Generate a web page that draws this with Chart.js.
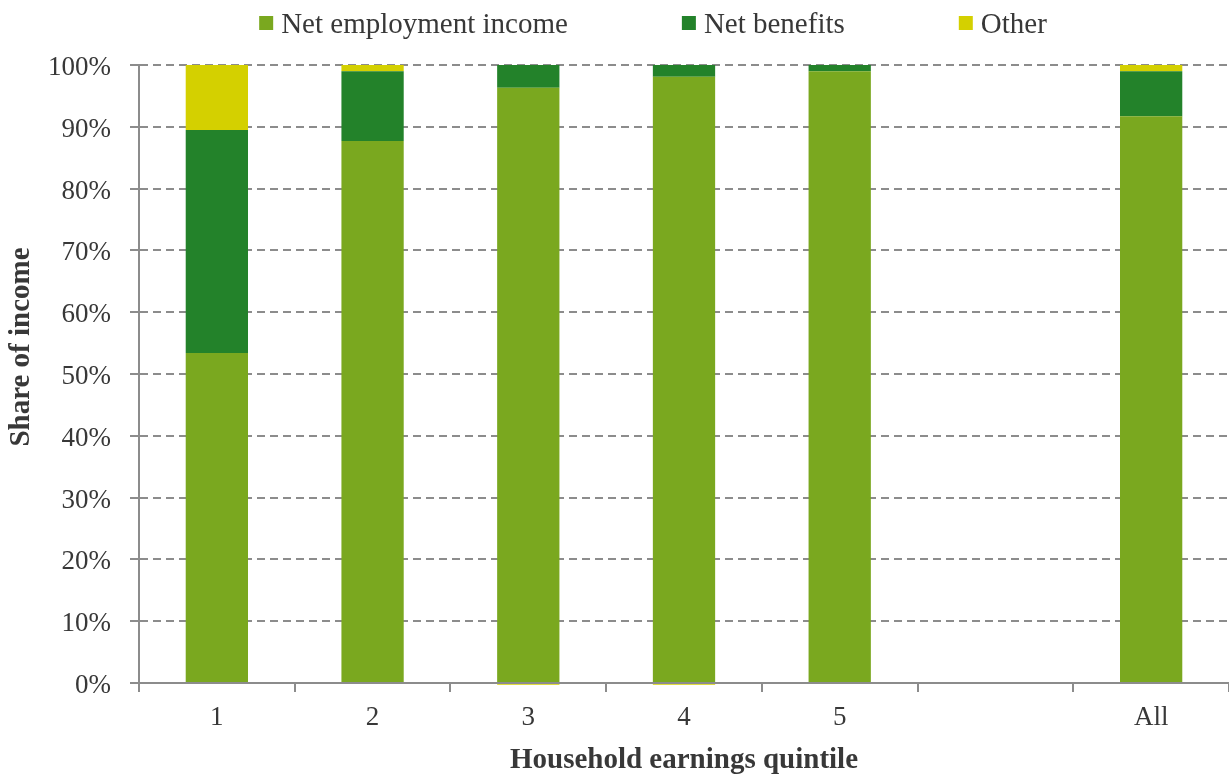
<!DOCTYPE html>
<html>
<head>
<meta charset="utf-8">
<script src="https://cdn.jsdelivr.net/npm/chart.js@4"></script>
<style>
  html, body { margin: 0; padding: 0; background: #fff; }
  #wrap { width: 1229px; height: 778px; }
</style>
</head>
<body>
<div id="wrap"><canvas id="incomeChart"></canvas></div>
<script>
const quintiles  = ["1", "2", "3", "4", "5", "", "All"];
const employment = [53.4, 87.7, 96.3, 98.1, 99.0, null, 91.7];
const benefits   = [36.1, 11.3, 3.7, 1.9, 1.0, null, 7.3];
const other      = [10.5, 1.0, -0.3, -0.3, 0, null, 1.0];

const FONT = "'Liberation Serif', 'Times New Roman', serif";
const TEXT = "#383838";
const AXIS = "#8c8c8c";

// legend + y title drawn by hand so they sit where the original has them
const extras = {
  id: "extras",
  afterDraw(chart) {
    const ctx = chart.ctx;
    const sets = chart.data.datasets;
    ctx.save();
    ctx.font = "29px " + FONT;
    ctx.textBaseline = "middle";
    const box = 14, gap = 8, spacing = 114;
    const widths = sets.map(d => box + gap + ctx.measureText(d.label).width);
    const total = widths.reduce((a, b) => a + b, 0) + spacing * (sets.length - 1);
    let x = 653 - total / 2;
    const y = 23;
    sets.forEach((d, i) => {
      ctx.fillStyle = d.backgroundColor;
      ctx.fillRect(x, y - box / 2, box, box);
      ctx.fillStyle = TEXT;
      ctx.fillText(d.label, x + box + gap, y + 2);
      x += widths[i] + spacing;
    });

    // y axis title
    ctx.translate(22, 347);
    ctx.rotate(-Math.PI / 2);
    ctx.font = "bold 29px " + FONT;
    ctx.textAlign = "center";
    ctx.fillStyle = TEXT;
    ctx.fillText("Share of income", 0, 0);
    ctx.restore();
  }
};

const ctx = document.getElementById("incomeChart");

new Chart(ctx, {
  type: "bar",
  data: {
    labels: quintiles,
    datasets: [
      { label: "Net employment income", data: employment, backgroundColor: "#7aa81f", clip: false },
      { label: "Net benefits", data: benefits, backgroundColor: "#23822a", clip: false },
      { label: "Other", data: other, backgroundColor: "#d4d000", clip: false }
    ]
  },
  options: {
    responsive: true,
    maintainAspectRatio: false,
    animation: false,
    layout: { padding: { top: 65, right: 0, left: 0, bottom: 0 } },
    datasets: {
      bar: { barPercentage: 0.4, categoryPercentage: 1.0 }
    },
    plugins: {
      legend: { display: false },
      tooltip: { enabled: false }
    },
    scales: {
      x: {
        stacked: true,
        afterFit: s => { s.height = 95; },
        grid: {
          offset: true,
          drawOnChartArea: false,
          drawTicks: true,
          tickLength: 9,
          color: AXIS,
          lineWidth: 2
        },
        border: { color: AXIS, width: 2 },
        ticks: { color: TEXT, padding: 10, font: { family: FONT, size: 27 } },
        title: {
          display: true,
          text: "Household earnings quintile",
          color: TEXT,
          padding: { top: 0, bottom: 0 },
          font: { family: FONT, size: 29, weight: "bold" }
        }
      },
      y: {
        stacked: true,
        min: 0,
        max: 100,
        afterFit: s => { s.width = 139; },
        grid: {
          color: AXIS,
          lineWidth: 2,
          tickLength: 9,
          tickColor: AXIS,
          tickBorderDash: []
        },
        border: { color: AXIS, width: 2, dash: [8, 5] },
        ticks: {
          stepSize: 10,
          color: TEXT,
          padding: 19,
          labelOffset: 3,
          font: { family: FONT, size: 27 },
          callback: v => v + "%"
        },
        title: { display: false }
      }
    }
  },
  plugins: [extras]
});
</script>
</body>
</html>
